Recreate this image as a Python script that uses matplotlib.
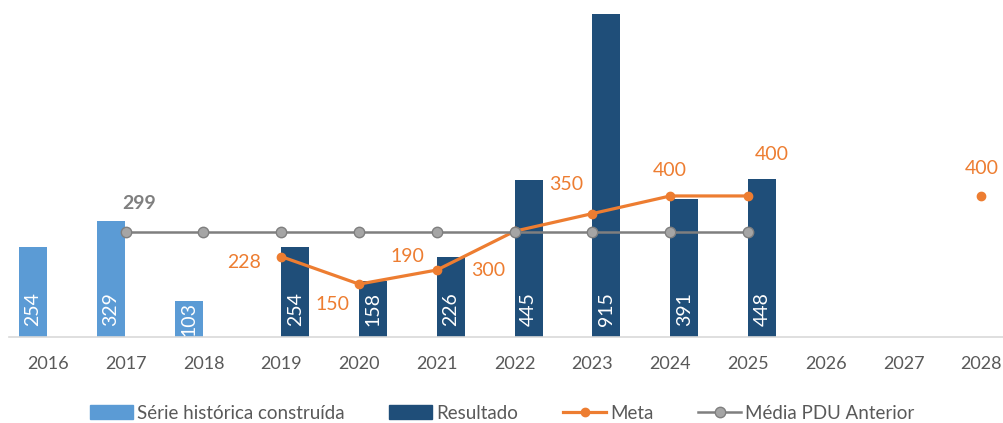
import numpy as np
import matplotlib.pyplot as plt
from matplotlib.lines import Line2D
from matplotlib.patches import Patch

plt.rcParams['font.family'] = ['Lato', 'DejaVu Sans']

# chart data
years = ['2016', '2017', '2018', '2019', '2020', '2021', '2022',
         '2023', '2024', '2025', '2026', '2027', '2028']
serie_historica = [254, 329, 103, None, None, None, None, None, None, None, None, None, None]
resultado = [None, None, None, 254, 158, 226, 445, 915, 391, 448, None, None, None]
meta = [None, None, None, 228, 150, 190, 300, 350, 400, 400, None, None, 400]
media_pdu = [None, 299, 299, 299, 299, 299, 299, 299, 299, 299, None, None, None]

# label offsets for meta values (points)
meta_offsets = {3: (-27, -4), 4: (-19, -15), 5: (-21, 10), 6: (-19, -28),
                7: (-19, 21), 8: (0, 18), 9: (17, 30), 12: (0, 20)}

C_LIGHT = '#5B9BD5'
C_DARK = '#1F4E79'
C_ORANGE = '#ED7D31'
C_GRAY = '#7F7F7F'


def to_arr(vals):
    return np.array([np.nan if v is None else v for v in vals], dtype=float)


def bar_labels(ax, xs, vals):
    for x, v in zip(xs, vals):
        if np.isnan(v):
            continue
        if v < 150:
            ax.text(x, v / 2, f'{int(v)}', rotation=90, ha='center', va='center',
                    color='white', fontsize=14)
        else:
            ax.annotate(f'{int(v)}', (x, 0), xytext=(0, 8), textcoords='offset points',
                        rotation=90, ha='center', va='bottom', color='white', fontsize=14)


def main():
    fig = plt.figure(figsize=(10.04, 4.23), dpi=100)
    W, H = 1004, 423
    ax = fig.add_axes([9 / W, 86 / H, (W - 9) / W, 323 / H])

    x = np.arange(len(years))
    sh = to_arr(serie_historica)
    res = to_arr(resultado)
    mt = to_arr(meta)
    md = to_arr(media_pdu)

    w = 0.36
    ax.bar(x - 0.19, np.nan_to_num(sh), w, color=C_LIGHT, zorder=2)
    ax.bar(x + 0.18, np.nan_to_num(res), w, color=C_DARK, zorder=2)
    bar_labels(ax, x - 0.19, sh)
    bar_labels(ax, x + 0.18, res)

    ax.plot(x, mt, color=C_ORANGE, lw=2.3, marker='o', ms=6, zorder=3)
    ax.plot(x, md, color=C_GRAY, lw=1.8, marker='o', ms=7.5,
            mfc='#A5A5A5', mec=C_GRAY, mew=1, zorder=4)

    for i, (dx, dy) in meta_offsets.items():
        ax.annotate(f'{int(mt[i])}', (x[i], mt[i]), xytext=(dx, dy),
                    textcoords='offset points', ha='center', va='center',
                    color=C_ORANGE, fontsize=14)
    ax.annotate(f'{int(md[1])}', (x[1], md[1]), xytext=(10, 20),
                textcoords='offset points', ha='center', va='center',
                color=C_GRAY, fontsize=14, fontweight='bold')

    ax.set_xlim(-0.5, 12.29)
    ax.set_ylim(0, 916)
    ax.set_xticks(x)
    ax.set_xticklabels(years, fontsize=13, color='#595959')
    ax.tick_params(axis='x', length=0, pad=14)
    ax.set_yticks([])
    for s in ['top', 'left', 'right']:
        ax.spines[s].set_visible(False)
    ax.spines['bottom'].set_color('#D9D9D9')
    ax.spines['bottom'].set_linewidth(1.2)

    handles = [
        Patch(color=C_LIGHT, label='Série histórica construída'),
        Patch(color=C_DARK, label='Resultado'),
        Line2D([], [], color=C_ORANGE, lw=2.3, marker='o', ms=6, label='Meta'),
        Line2D([], [], color=C_GRAY, lw=1.8, marker='o', ms=7.5, mfc='#A5A5A5',
               mec=C_GRAY, label='Média PDU Anterior'),
    ]
    leg = fig.legend(handles=handles, loc='center', bbox_to_anchor=(0.5, 10 / H),
                     ncol=4, frameon=False, fontsize=13.5, handlelength=2.3,
                     handletextpad=0.2, columnspacing=2.4)
    for t in leg.get_texts():
        t.set_color('#595959')

    fig.savefig('out.png', dpi=100)


if __name__ == '__main__':
    main()
